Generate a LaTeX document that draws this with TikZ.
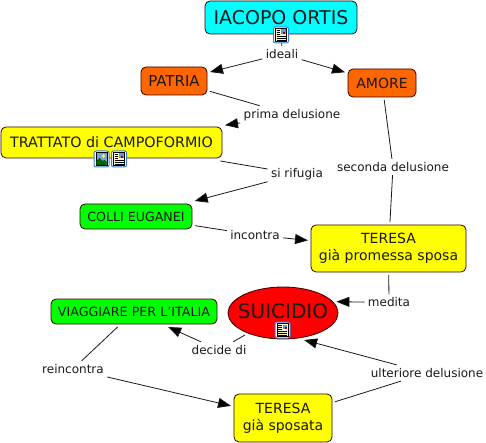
\documentclass[tikz,border=0pt]{standalone}
\usepackage{fontspec}
\setmainfont{DejaVu Sans}
\usetikzlibrary{arrows.meta,shapes.geometric}
\definecolor{cpcyan}{HTML}{00FFFF}
\definecolor{cporange}{HTML}{FF6600}
\definecolor{cpyellow}{HTML}{FFFF00}
\definecolor{cpgreen}{HTML}{00FF00}
\definecolor{cpred}{HTML}{FF0000}
\definecolor{iconblue}{HTML}{3C7FD0}
\definecolor{iconpaper}{HTML}{FFFAC8}
\newcommand{\fs}[1]{\fontsize{#1}{17}\selectfont}
\tikzset{
  x=1pt,y=-1pt,
  cbox/.style={draw=black!80!red,line width=.8pt,rounded corners=5pt,align=center,inner sep=0pt,outer sep=3pt,text=black!90},
  lab/.style={inner sep=1pt,outer sep=2.5pt,font=\fs{12},text=black!90},
  link/.style={draw=black!90,line width=.8pt},
  arr/.style={link,-{Triangle[length=13pt,width=10pt,fill=black]}},
  iconframe/.style={draw=iconblue,line width=1pt,fill=white,rounded corners=2pt},
}
\newcommand{\docicon}[1]{%
 \begin{scope}[shift={(#1)}]
  \path[iconframe] (-7.5,-8) rectangle (7.5,8);
  \path[draw=black,line width=.6pt,fill=iconpaper] (-5.5,-6.5) rectangle (5.5,6.5);
  \fill[iconblue!80] (0,-5.5) rectangle (4.8,-1);
  \fill[red!60!black] (2,-3) rectangle (4.3,-1);
  \foreach \yy in {-4.5,-2.5,-.5}{\draw[black,line width=.7pt] (-4.5,\yy) -- (-1,\yy);}
  \foreach \yy in {1.5,3.2,5}{\draw[black,line width=.7pt] (-4.5,\yy) -- (4.5,\yy);}
 \end{scope}}
\newcommand{\picicon}[1]{%
 \begin{scope}[shift={(#1)}]
  \path[iconframe] (-7.5,-8) rectangle (7.5,8);
  \path[draw=black,line width=.6pt,fill=iconblue!70] (-5.5,-6.5) rectangle (5.5,6.5);
  \fill[green!40!black] (-5.2,6.2) -- (-5.2,2) -- (-2,-1) -- (1,2) -- (3,1) -- (5.2,3) -- (5.2,6.2) -- cycle;
  \fill[yellow!70!white] (2,-3) circle (1.8);
 \end{scope}}
\begin{document}
\begin{tikzpicture}
\useasboundingbox (0,0) rectangle (486,443);
% concepts
\node[cbox,fill=cpcyan,minimum width=152pt,minimum height=33pt,font=\fs{19}] (ortis) at (281,17.5) {IACOPO ORTIS};
\node[cbox,fill=cporange,minimum width=66pt,minimum height=28pt,font=\fs{15}] (patria) at (174,81) {PATRIA};
\node[cbox,fill=cporange,minimum width=68pt,minimum height=28pt,font=\fs{14}] (amore) at (382,83) {AMORE};
\node[cbox,fill=cpyellow,minimum width=221pt,minimum height=31pt,font=\fs{14.3}] (trattato) at (111.5,142.5) {TRATTATO di CAMPOFORMIO};
\node[cbox,fill=cpgreen,minimum width=112pt,minimum height=25pt,font=\fs{12.6}] (colli) at (136,216.5) {COLLI EUGANEI};
\node[cbox,fill=cpyellow,minimum width=155pt,minimum height=47pt,font=\fs{14}] (teresa1) at (388.5,248.5) {TERESA\\già promessa sposa};
\node[cbox,fill=cpgreen,minimum width=166pt,minimum height=25pt,font=\fs{12.7}] (viaggiare) at (134,311.5) {VIAGGIARE PER L'ITALIA};
\node[cbox,fill=cpyellow,minimum width=98pt,minimum height=48pt,font=\fs{14}] (teresa2) at (283,418) {TERESA\\già sposata};
\node[ellipse,draw=black!80!red,line width=.8pt,fill=cpred,minimum width=110pt,minimum height=52pt,inner xsep=-25pt,inner ysep=-6pt,outer sep=3pt,font=\fs{20},text=black!90] (suicidio) at (283,313) {\raisebox{3pt}{SUICIDIO}};
% linking phrases
\node[lab] (ideali) at (282,54) {ideali};
\node[lab] (prima) at (292,115) {prima delusione};
\node[lab] (seconda) at (393,167) {seconda delusione};
\node[lab] (rifugia) at (297,174) {si rifugia};
\node[lab] (incontra) at (255,235) {incontra};
\node[lab] (medita) at (389,302.5) {medita};
\node[lab] (decide) at (219,350) {decide di};
\node[lab] (reincontra) at (73,369) {reincontra};
\node[lab] (ulteriore) at (427,373) {ulteriore delusione};
% connectors
\draw[link] (ortis) -- (ideali);
\draw[arr] (ideali) -- (patria);
\draw[arr] (ideali) -- (amore);
\draw[link] (patria) -- (prima);
\draw[arr] (prima) -- (trattato);
\draw[link] (amore) -- (seconda);
\draw[link] (seconda) -- (teresa1);
\draw[link] (trattato) -- (rifugia);
\draw[arr] (rifugia) -- (colli);
\draw[link] (colli) -- (incontra);
\draw[arr] (incontra) -- (teresa1);
\draw[link] (teresa1) -- (medita);
\draw[arr] (medita) -- (suicidio.12);
\draw[link] (suicidio) -- (decide);
\draw[arr] (decide) -- (viaggiare);
\draw[link] (viaggiare) -- (reincontra);
\draw[arr] (reincontra) -- (teresa2);
\draw[link] (teresa2) -- (ulteriore);
\draw[arr] (ulteriore) -- (suicidio.-52);
% resource icons
\docicon{281,35}
\picicon{101.5,159}
\docicon{119,159}
\docicon{282.5,330}
\end{tikzpicture}
\end{document}
